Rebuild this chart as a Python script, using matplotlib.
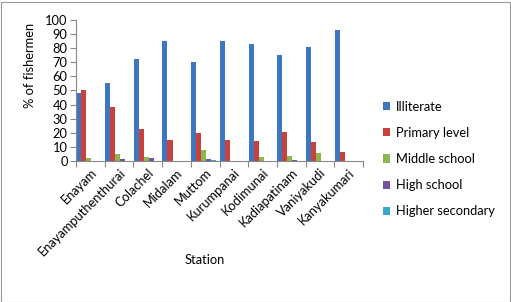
import matplotlib
matplotlib.use("Agg")
import matplotlib.pyplot as plt
import numpy as np
from matplotlib.patches import Rectangle

stations = ["Enayam", "Enayamputhenthurai", "Colachel", "Midalam", "Muttom",
            "Kurumpanai", "Kodimunai", "Kadiapatinam", "Vaniyakudi", "Kanyakumari"]
series_names = ["Illiterate", "Primary level", "Middle school", "High school", "Higher secondary"]
illiterate = [48, 55, 72, 85, 70, 85, 83, 75, 80.5, 93]
primary = [50, 38, 22.6, 15, 20, 15, 14, 20.5, 13.5, 6.5]
middle = [2, 5, 3, 0, 7.8, 0, 3, 3.5, 5.6, 0]
high = [0, 1.4, 2.1, 0, 1.4, 0, 0, 0.8, 0, 0]
higher_sec = [0, 0, 0, 0, 0.8, 0, 0, 0, 0, 0]
colors = ["#3D78BE", "#C8413E", "#8DB64E", "#7352A0", "#36A9C9"]
yticks = list(range(0, 101, 10))

plt.rcParams['font.family'] = ['Lato', 'DejaVu Sans']
W, H = 511, 302
fig = plt.figure(figsize=(W/100, H/100), dpi=100)
ax = fig.add_axes([76/W, 1-161/H, (363-76)/W, (161-20)/H])

data = [illiterate, primary, middle, high, higher_sec]
n = len(stations)
x = np.arange(n)
bw = 0.175
for i, (vals, c, name) in enumerate(zip(data, colors, series_names)):
    ax.bar(x - 2*bw + i*bw - 0.05, vals, width=bw, color=c, label=name, linewidth=0)

fs = 9.3
ax.set_xlim(-0.5, n-0.5)
ax.set_ylim(0, 100)
ax.set_yticks(yticks)
ax.set_yticklabels([str(t) for t in yticks], fontsize=fs)
ax.set_xticks(np.arange(-0.5, n, 1), minor=False)
ax.set_xticklabels([""]*(n+1))
ax.set_xticks(x, minor=True)
ax.set_xticklabels(stations, minor=True, rotation=45, ha='right', rotation_mode='anchor', fontsize=fs)
ax.tick_params(axis='x', which='minor', length=0, pad=4)
ax.tick_params(axis='x', which='major', length=4, color='#888888', direction='out')
ax.tick_params(axis='y', length=4, color='#888888', direction='out', pad=2)
for s in ['top', 'right']:
    ax.spines[s].set_visible(False)
for s in ['left', 'bottom']:
    ax.spines[s].set_color('#888888')
ax.set_ylabel("% of fishermen", fontsize=fs)
ax.yaxis.set_label_coords(-(76-30)/(363-76), (161-65)/(161-20))
ax.set_xlabel("Station", fontsize=fs)
ax.xaxis.set_label_coords((205-76)/(363-76), -(260-161)/(161-20))
ax.xaxis.label.set_va('center')
ax.yaxis.label.set_va('center')

leg = fig.legend(loc='upper left', bbox_to_anchor=(371/W, 1-89/H), frameon=False,
                 fontsize=fs, handlelength=0.6, handleheight=0.6, handletextpad=0.45,
                 labelspacing=1.1)

fig.patches.append(Rectangle((0.5/W, 0.5/H), 1-2/W, 1-2/H, transform=fig.transFigure,
                             fill=False, edgecolor='#999999', linewidth=0.8))
fig.savefig("out.png", dpi=100)
